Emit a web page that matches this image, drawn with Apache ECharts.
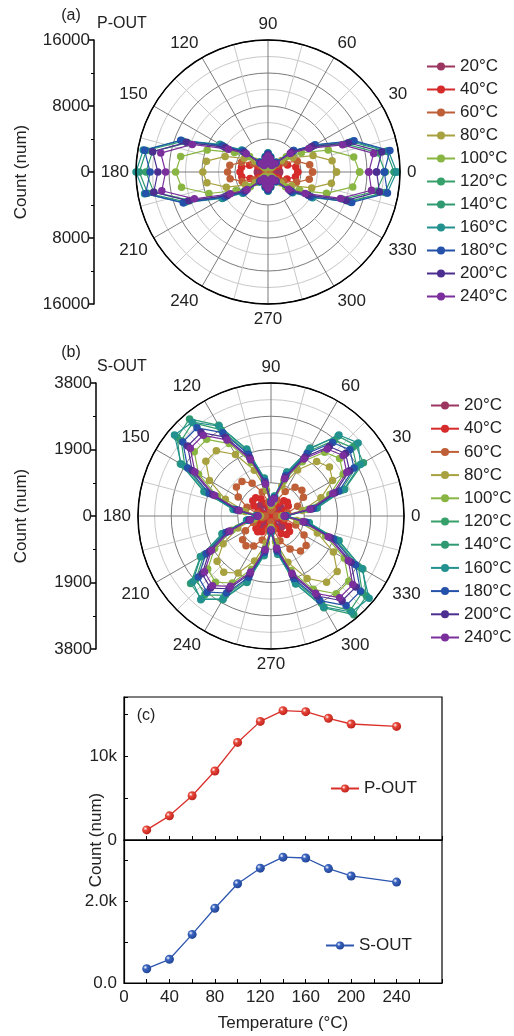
<!DOCTYPE html>
<html>
<head>
<meta charset="utf-8">
<script src="https://cdn.jsdelivr.net/npm/echarts@6/dist/echarts.min.js"></script>
<style>
html,body{margin:0;padding:0;background:#fff;}
#chart{width:514px;height:1036px;}
</style>
</head>
<body>
<div id="chart"></div>
<script>
// ---------- DATA ----------
const ANGLES = [0,10,20,30,40,50,60,70,80,90,100,110,120,130,140,150,160,170,180,190,200,210,220,230,240,250,260,270,280,290,300,310,320,330,340,350];
const TEMP_NAMES = ['20°C','40°C','60°C','80°C','100°C','120°C','140°C','160°C','180°C','200°C','240°C'];

// P-OUT polar counts (radius) at ANGLES
const P_20C  = [1400,1330,980,590,360,140,100,110,170,210,160,100,90,130,340,550,910,1250,1300,1240,880,520,330,130,90,100,160,210,170,110,100,140,350,560,950,1320];
const P_40C  = [3600,3420,2520,1510,940,360,250,290,430,540,410,270,240,340,880,1430,2380,3260,3400,3230,2310,1360,850,340,240,270,410,540,430,290,250,360,900,1440,2450,3380];
const P_60C  = [5400,5130,3780,2270,1400,540,380,430,650,810,590,390,340,490,1270,2060,3430,4700,4900,4660,3330,1960,1230,490,340,390,590,810,650,430,380,540,1350,2160,3670,5080];
const P_80C  = [8300,7890,5810,3490,2160,830,580,660,1000,1250,950,630,550,790,2050,3320,5530,7580,7900,7510,5370,3160,1980,790,550,630,950,1250,1000,660,580,830,2080,3320,5640,7800];
const P_100C = [11100,10550,7770,4660,2890,1110,780,890,1330,1670,1340,900,780,1120,2910,4700,7840,10750,11200,10640,7620,4480,2800,1120,780,900,1340,1670,1330,890,780,1110,2780,4440,7550,10430];
const P_120C = [14200,13490,9940,5960,3690,1420,990,1140,1700,2130,1780,1180,1040,1480,3850,6220,10360,14210,14800,14060,10060,5920,3700,1480,1040,1180,1780,2130,1700,1140,990,1420,3550,5680,9660,13350];
const P_140C = [15300,14540,10710,6430,3980,1530,1070,1220,1840,2300,1870,1250,1090,1560,4060,6550,10920,14980,15600,14820,10610,6240,3900,1560,1090,1250,1870,2300,1840,1220,1070,1530,3830,6120,10400,14380];
const P_160C = [15600,14820,10920,6550,4060,1560,1090,1250,1870,2340,1920,1280,1120,1600,4160,6720,11200,15360,16000,15200,10880,6400,4000,1600,1120,1280,1920,2340,1870,1250,1090,1560,3900,6240,10610,14660];
const P_180C = [14100,15000,11100,6600,4050,1500,1050,1200,1800,2250,1820,1220,1060,1520,3950,6380,11250,15200,14290,15050,10940,6080,3800,1520,1060,1220,1820,2250,1800,1200,1050,1500,3750,6000,10800,14700];
const P_200C = [13160,14000,10360,6160,3780,1400,980,1120,1680,2100,1700,1140,990,1420,3690,5960,10510,14200,13350,14060,10220,5680,3550,1420,990,1140,1700,2100,1680,1120,980,1400,3500,5600,10080,13720];
const P_240C = [12220,13000,9620,5720,3510,1300,910,1040,1560,1950,1580,1060,920,1320,3430,5540,9770,13200,12410,13070,9500,5280,3300,1320,920,1060,1580,1950,1560,1040,910,1300,3250,5200,9360,12740];

// S-OUT polar counts (radius) at ANGLES
const S_20C  = [50,160,270,360,380,360,270,160,70,50,130,240,360,430,430,360,240,130,50,90,180,280,350,370,330,240,140,60,130,250,360,440,440,360,250,130];
const S_40C  = [90,250,430,570,610,570,430,250,110,80,210,390,570,680,680,570,390,210,80,130,280,440,560,590,520,380,220,90,210,390,580,690,690,580,390,210];
const S_60C  = [160,480,810,1070,1150,1070,810,480,210,160,400,730,1080,1290,1290,1080,730,400,160,260,540,840,1060,1110,990,730,410,170,400,750,1090,1310,1310,1090,750,400];
const S_80C  = [310,910,1520,2030,2180,2030,1520,910,390,300,750,1390,2030,2430,2430,2030,1390,750,300,480,1010,1580,2010,2100,1880,1370,780,320,750,1410,2060,2470,2470,2060,1410,750];
const S_100C = [360,1070,1790,2380,2560,2380,1790,1070,460,350,880,1630,2390,2860,2860,2390,1630,880,350,570,1190,1860,2360,2470,2210,1620,920,380,890,1660,2420,2900,2900,2420,1660,890];
const S_120C = [430,1270,2130,2830,3040,2830,2130,1270,550,420,1050,1940,2840,3480,3350,2840,1940,1050,420,670,1420,2210,2800,2940,2620,1920,1090,450,1050,1970,2880,3520,3400,2880,1970,1050];
const S_140C = [450,1340,2240,3050,3150,2980,2240,1340,580,440,1100,2040,2990,3620,3500,2990,2040,1100,440,710,1490,2330,3000,3090,2760,2020,1150,470,1110,2070,3030,3680,3560,3030,2070,1110];
const S_160C = [450,1330,2220,2950,3250,3020,2220,1330,570,440,1090,2020,2960,3500,3600,2960,2020,1090,440,700,1480,2310,2920,3120,2730,2000,1140,470,1100,2050,3000,3580,3660,3000,2050,1100];
const S_180C = [410,1230,2060,2740,2940,2740,2060,1230,530,400,1010,1880,2750,3290,3290,2750,1880,1010,400,650,1370,2140,2710,2840,2540,1860,1060,430,1020,1900,2790,3340,3340,2790,1900,1020];
const S_200C = [390,1170,1950,2590,2780,2590,1950,1170,500,380,960,1770,2600,3110,3110,2600,1770,960,380,620,1300,2030,2570,2690,2400,1760,1000,410,970,1800,2640,3160,3160,2640,1800,970];
const S_240C = [380,1130,1880,2500,2690,2500,1880,1130,490,370,920,1710,2510,3010,3010,2510,1710,920,370,600,1250,1960,2480,2600,2320,1700,970,390,930,1740,2550,3050,3050,2550,1740,930];

// Panel (c)
const TEMPS   = [20,40,60,80,100,120,140,160,180,200,240];
const P_TOTAL = [1200,2870,5260,8200,11600,14100,15380,15260,14470,13790,13500];
const S_TOTAL = [350,580,1190,1830,2430,2810,3080,3060,2800,2620,2470];

// Tick labels
const P_AXIS_TICKS = [-16000,-8000,0,8000,16000];
const S_AXIS_TICKS = [-3800,-1900,0,1900,3800];

const P_SERIES = [P_20C,P_40C,P_60C,P_80C,P_100C,P_120C,P_140C,P_160C,P_180C,P_200C,P_240C];
const S_SERIES = [S_20C,S_40C,S_60C,S_80C,S_100C,S_120C,S_140C,S_160C,S_180C,S_200C,S_240C];

// ---------- STYLE ----------
const COLORS = ['#9c3560','#d52b2b','#bf5f37','#a8a13f','#89b642','#36a06a','#2f9a72','#22918f','#2451a9','#4c2e90','#7a2f9c'];
const FONT = '"Liberation Sans", Arial, sans-serif';
const TXT = '#222';
const DARK = '#7a7a7a', LIGHT = '#c8c8c8', NONE = 'rgba(0,0,0,0)';

const PA = {center:[268,172], R:132, max:16000, step:2000};
const PB = {center:[271,516], R:133, max:3800, step:475};

const polar = [], angleAxis = [], radiusAxis = [];
function addPolarGroup(cfg){
  const base = polar.length;
  polar.push({center: cfg.center, radius: [cfg.R*0.25, cfg.R]});
  angleAxis.push({polarIndex: base, type:'value', min:0, max:360, interval:30, startAngle:0, clockwise:false,
    axisLine:{show:false}, axisTick:{show:false}, axisLabel:{show:false},
    splitLine:{show:true, lineStyle:{color:DARK, width:1}}});
  radiusAxis.push({polarIndex: base, show:false, min:0, max:1});
  polar.push({center: cfg.center, radius: [cfg.R*0.5, cfg.R]});
  angleAxis.push({polarIndex: base+1, type:'value', min:0, max:360, interval:15, startAngle:0, clockwise:false,
    axisLine:{show:false}, axisTick:{show:false}, axisLabel:{show:false},
    splitLine:{show:true, lineStyle:{color:[NONE, LIGHT], width:1}}});
  radiusAxis.push({polarIndex: base+1, show:false, min:0, max:1});
  polar.push({center: cfg.center, radius: [0, cfg.R]});
  angleAxis.push({polarIndex: base+2, type:'value', min:0, max:360, interval:30, startAngle:0, clockwise:false, z:3,
    axisLine:{show:true, lineStyle:{color:'#000', width:1.5}}, axisTick:{show:false},
    axisLabel:{show:true, margin:7, fontSize:17, color:TXT, fontFamily:FONT, formatter:v => v===360 ? '' : String(v)},
    splitLine:{show:false}});
  radiusAxis.push({polarIndex: base+2, type:'value', min:0, max:cfg.max, interval:cfg.step,
    axisLine:{show:false}, axisTick:{show:false}, axisLabel:{show:false},
    splitLine:{show:true, lineStyle:{color:[NONE,NONE,DARK,LIGHT,DARK,LIGHT,DARK,LIGHT,'#000'], width:1}}});
  return base+2;
}
const polarA = addPolarGroup(PA);
const polarB = addPolarGroup(PB);

const series = [];
function polarSeries(list, pIndex){
  list.forEach((vals, i) => {
    const data = ANGLES.map((a, j) => [vals[j], a]);
    data.push([vals[0], 360]);
    series.push({
      name: TEMP_NAMES[i], type:'line', coordinateSystem:'polar', polarIndex:pIndex,
      data, symbol:'circle', symbolSize:7.5, showSymbol:true,
      lineStyle:{width:1.2, color:COLORS[i]}, itemStyle:{color:COLORS[i]},
      animation:false, z:2+i*0.01
    });
  });
}
polarSeries(P_SERIES, polarA);
polarSeries(S_SERIES, polarB);

function sphere(c1, c2){
  return {type:'radial', x:0.35, y:0.35, r:0.75, colorStops:[
    {offset:0, color:'#ffffff'}, {offset:0.3, color:c1}, {offset:1, color:c2}]};
}

const grid = [
  {left:94, top:40, width:10, height:264},
  {left:96, top:383, width:10, height:266},
  {left:124, top:697, width:318, height:143, show:true, borderColor:'#000', borderWidth:1.2},
  {left:124, top:840, width:318, height:143, show:true, borderColor:'#000', borderWidth:1.2}
];
const labelStyle = {fontSize:17, color:TXT, fontFamily:FONT};
const xAxis = [
  {gridIndex:0, type:'value', show:false, min:0, max:1},
  {gridIndex:1, type:'value', show:false, min:0, max:1},
  {gridIndex:2, type:'value', min:0, max:280, interval:20,
    axisLine:{lineStyle:{color:'#000', width:1.2}}, axisTick:{inside:true, length:4, lineStyle:{color:'#000'}},
    axisLabel:{show:false}, splitLine:{show:false}},
  {gridIndex:3, type:'value', min:0, max:280, interval:20,
    axisLine:{lineStyle:{color:'#000', width:1.2}}, axisTick:{inside:true, length:4, lineStyle:{color:'#000'}},
    axisLabel:Object.assign({margin:6, formatter:v => (v%40===0 && v<280) ? String(v) : ''}, labelStyle),
    splitLine:{show:false},
    name:'Temperature (°C)', nameLocation:'middle', nameGap:32, nameTextStyle:labelStyle}
];
const yAxis = [
  {gridIndex:0, type:'value', min:P_AXIS_TICKS[0], max:P_AXIS_TICKS[4], interval:P_AXIS_TICKS[3]-P_AXIS_TICKS[2],
    axisLine:{show:true, lineStyle:{color:'#000', width:1.5}},
    axisTick:{show:true, length:6, lineStyle:{color:'#000', width:1.5}},
    minorTick:{show:true, splitNumber:2, length:3, lineStyle:{color:'#000'}},
    axisLabel:Object.assign({margin:4, formatter:v => String(Math.abs(v))}, labelStyle), splitLine:{show:false}},
  {gridIndex:1, type:'value', min:S_AXIS_TICKS[0], max:S_AXIS_TICKS[4], interval:S_AXIS_TICKS[3]-S_AXIS_TICKS[2],
    axisLine:{show:true, lineStyle:{color:'#000', width:1.5}},
    axisTick:{show:true, length:6, lineStyle:{color:'#000', width:1.5}},
    minorTick:{show:true, splitNumber:2, length:3, lineStyle:{color:'#000'}},
    axisLabel:Object.assign({margin:4, formatter:v => String(Math.abs(v))}, labelStyle), splitLine:{show:false}},
  {gridIndex:2, type:'value', min:0, max:17000, interval:5000,
    axisLine:{lineStyle:{color:'#000', width:1.2}}, axisTick:{inside:true, length:4, lineStyle:{color:'#000'}},
    axisLabel:Object.assign({margin:7, formatter:v => v===0 ? '0' : (v===10000 ? '10k' : '')}, labelStyle), splitLine:{show:false}},
  {gridIndex:3, type:'value', min:0, max:3500, interval:1000,
    axisLine:{lineStyle:{color:'#000', width:1.2}}, axisTick:{inside:true, length:4, lineStyle:{color:'#000'}},
    axisLabel:Object.assign({margin:7, formatter:v => v===0 ? '0.0' : (v===2000 ? '2.0k' : '')}, labelStyle), splitLine:{show:false}}
];

series.push({name:'P-OUT', type:'line', xAxisIndex:2, yAxisIndex:2, data: TEMPS.map((t,i)=>[t, P_TOTAL[i]]),
  symbol:'circle', symbolSize:9, lineStyle:{color:'#d9302a', width:1.3}, itemStyle:{color:sphere('#e8473a','#b81c16')}, animation:false});
series.push({name:'S-OUT', type:'line', xAxisIndex:3, yAxisIndex:3, data: TEMPS.map((t,i)=>[t, S_TOTAL[i]]),
  symbol:'circle', symbolSize:9, lineStyle:{color:'#2d56ae', width:1.3}, itemStyle:{color:sphere('#3a64c0','#1d3f8f')}, animation:false});

const legendText = {fontSize:17, color:TXT, fontFamily:FONT};
const legend = [
  {data:TEMP_NAMES, orient:'vertical', left:421, top:53, itemGap:6, itemWidth:28, itemHeight:10, textStyle:legendText, selectedMode:false},
  {data:TEMP_NAMES, orient:'vertical', left:425, top:392, itemGap:6.2, itemWidth:28, itemHeight:10, textStyle:legendText, selectedMode:false},
  {data:['P-OUT'], left:325, top:775, itemWidth:28, itemHeight:10, textStyle:legendText, selectedMode:false},
  {data:['S-OUT'], left:320, top:932, itemWidth:28, itemHeight:10, textStyle:legendText, selectedMode:false}
];

const graphic = [
  {type:'text', x:71, y:16, style:{text:'(a)', font:'16px '+FONT, fill:TXT, textAlign:'center', textVerticalAlign:'middle'}},
  {type:'text', x:97, y:24, style:{text:'P-OUT', font:'16px '+FONT, fill:TXT, textAlign:'left', textVerticalAlign:'middle'}},
  {type:'text', x:71, y:353, style:{text:'(b)', font:'16px '+FONT, fill:TXT, textAlign:'center', textVerticalAlign:'middle'}},
  {type:'text', x:97, y:367, style:{text:'S-OUT', font:'16px '+FONT, fill:TXT, textAlign:'left', textVerticalAlign:'middle'}},
  {type:'text', x:146, y:716, style:{text:'(c)', font:'16px '+FONT, fill:TXT, textAlign:'center', textVerticalAlign:'middle'}},
  {type:'text', x:21, y:172, rotation:Math.PI/2, style:{text:'Count (num)', font:'17px '+FONT, fill:TXT, textAlign:'center', textVerticalAlign:'middle'}},
  {type:'text', x:21, y:516, rotation:Math.PI/2, style:{text:'Count (num)', font:'17px '+FONT, fill:TXT, textAlign:'center', textVerticalAlign:'middle'}},
  {type:'text', x:96, y:840, rotation:Math.PI/2, style:{text:'Count (num)', font:'17px '+FONT, fill:TXT, textAlign:'center', textVerticalAlign:'middle'}}
];

const chart = echarts.init(document.getElementById('chart'), null, {renderer:'canvas'});
chart.setOption({
  animation:false,
  backgroundColor:'#fff',
  textStyle:{fontFamily:FONT},
  polar, angleAxis, radiusAxis, grid, xAxis, yAxis, legend, graphic, series
});
</script>
</body>
</html>
